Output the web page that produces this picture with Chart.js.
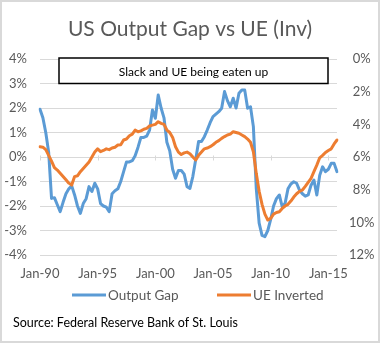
<!DOCTYPE html>
<html>
<head>
<meta charset="utf-8">
<script src="https://cdn.jsdelivr.net/npm/chart.js@4.4.1/dist/chart.umd.min.js"></script>
<style>
  html, body { margin: 0; padding: 0; background: #fff; }
  canvas { display: block; }
</style>
</head>
<body>
<canvas id="chart" width="380" height="343"></canvas>
<script>
// quarterly data, Jan-90 .. Oct-15
const years = [1990, 1991, 1992, 1993, 1994, 1995, 1996, 1997, 1998, 1999, 2000, 2001, 2002,
  2003, 2004, 2005, 2006, 2007, 2008, 2009, 2010, 2011, 2012, 2013, 2014, 2015];
const months = ["Jan", "Apr", "Jul", "Oct"];

const outputGap = [
  1.95, 1.6, 1.0, 0.2,
  -1.69, -1.66, -1.95, -2.23,
  -1.85, -1.5, -1.3, -1.18,
  -1.55, -2.0, -2.3, -1.9,
  -1.7, -1.21, -1.41, -1.07,
  -1.3, -1.9, -2.0, -2.05,
  -2.23, -1.5, -1.38, -1.3,
  -1.0, -0.6, -0.2, -0.2,
  -0.15, 0.05, 0.4, 0.8,
  0.8, 0.85, 1.1, 1.92,
  1.58, 2.53, 2.0, 1.6,
  0.6, 0.25, -0.5, -0.87,
  -0.55, -0.55, -0.7, -1.21,
  -1.28, -0.8, -0.1, 0.63,
  0.63, 0.83, 1.1, 1.4,
  1.65, 1.75, 1.85, 1.99,
  2.67, 2.3, 2.05, 2.4,
  2.0, 2.6, 2.73, 2.73,
  1.99, 2.05, 1.24, -1.28,
  -2.7, -3.2, -3.25, -3.0,
  -2.55, -2.0, -1.7, -1.55,
  -2.03, -1.89, -1.3, -1.1,
  -1.01, -1.07, -1.35, -1.5,
  -1.6, -1.55, -1.15, -0.94,
  -1.55, -0.75, -0.4, -0.6,
  -0.5, -0.26, -0.26, -0.6
];

// unemployment rate, plotted on the inverted right axis
const ueRate = [
  5.37, 5.4, 5.55, 5.9,
  6.25, 6.65, 6.8, 7.0,
  7.2, 7.4, 7.6, 7.72,
  7.2, 7.15, 6.9, 6.7,
  6.5, 6.3, 6.0, 5.7,
  5.5, 5.67, 5.6, 5.5,
  5.55, 5.45, 5.4, 5.27,
  5.25, 4.96, 4.9, 4.7,
  4.6, 4.35, 4.45, 4.4,
  4.3, 4.25, 4.1, 4.05,
  4.0, 3.84, 3.94, 4.0,
  4.35, 4.5, 4.8, 5.37,
  5.7, 5.85, 5.75, 5.7,
  5.8, 6.0, 6.18, 5.9,
  5.7, 5.5, 5.45, 5.37,
  5.25, 5.1, 5.0, 4.86,
  4.75, 4.65, 4.6, 4.45,
  4.5, 4.55, 4.65, 4.75,
  4.9, 5.1, 5.68, 7.0,
  8.1, 8.9, 9.5, 9.86,
  9.76, 9.5, 9.4, 9.35,
  9.15, 9.0, 8.9, 8.7,
  8.45, 8.25, 8.1, 8.02,
  7.8, 7.55, 7.31, 6.9,
  6.5, 6.05, 5.9, 5.72,
  5.6, 5.5, 5.2, 4.96
];

const labels = years.flatMap(y => months.map(m => m + "-" + String(y).slice(2)));
const labelEvery = 20;

const GRID = "#d9d9d9";
const TEXT = "#595959";
const BLUE = "#5b9bd5";
const ORANGE = "#ed7d31";

Chart.defaults.font.family = "Lato, 'Open Sans', sans-serif";
Chart.defaults.color = TEXT;

// white background and thin frame
const frame = {
  id: "frame",
  beforeDraw(chart) {
    const ctx = chart.ctx;
    ctx.save();
    ctx.fillStyle = "#fff";
    ctx.fillRect(0, 0, chart.width, chart.height);
    ctx.strokeStyle = GRID;
    ctx.lineWidth = 2;
    ctx.strokeRect(1, 1, chart.width - 2, chart.height - 2);
    ctx.restore();
  }
};

// little tick marks where the date axis crosses 0%
const zeroTicks = {
  id: "zeroTicks",
  beforeDatasetsDraw(chart) {
    const { ctx, scales } = chart;
    const y0 = Math.round(scales.y.getPixelForValue(0)) + 0.5;
    ctx.save();
    ctx.strokeStyle = GRID;
    ctx.lineWidth = 1;
    for (let i = 0; i < labels.length; i += labelEvery) {
      const x = Math.round(scales.x.getPixelForValue(i)) + 0.5;
      ctx.beginPath();
      ctx.moveTo(x, y0 - 2);
      ctx.lineTo(x, y0 + 3);
      ctx.stroke();
    }
    ctx.restore();
  }
};

// text box at the top, legend and source line
const notes = {
  id: "notes",
  afterDraw(chart) {
    const { ctx, chartArea, scales } = chart;
    const left = chartArea.left + 19;
    const right = chartArea.right - 9;
    const top = scales.y.getPixelForValue(4) - 1;
    const bottom = scales.y.getPixelForValue(3);
    ctx.save();
    ctx.fillStyle = "#fff";
    ctx.fillRect(left, top, right - left, bottom - top);
    ctx.strokeStyle = "#000";
    ctx.lineWidth = 1.5;
    ctx.strokeRect(left, top, right - left, bottom - top);
    ctx.fillStyle = "#000";
    ctx.font = "12px Lato";
    ctx.textAlign = "center";
    ctx.textBaseline = "middle";
    ctx.fillText("Slack and UE being eaten up", (left + right) / 2, (top + bottom) / 2 + 1);

    // legend
    const ly = 295;
    const items = chart.data.datasets.map(ds => ({ text: ds.label, color: ds.borderColor }));
    const starts = [72, 217];
    ctx.font = "13.5px Lato";
    ctx.textAlign = "left";
    items.forEach((it, i) => {
      ctx.strokeStyle = it.color;
      ctx.lineWidth = 3;
      ctx.beginPath();
      ctx.moveTo(starts[i], ly);
      ctx.lineTo(starts[i] + 34, ly);
      ctx.stroke();
      ctx.fillStyle = TEXT;
      ctx.fillText(it.text, starts[i] + 36, ly + 1);
    });

    ctx.fillStyle = "#000";
    ctx.font = "12.5px Lato";
    ctx.fillText("Source: Federal Reserve Bank of St. Louis", 13, 323);
    ctx.restore();
  }
};

new Chart(document.getElementById("chart"), {
  type: "line",
  data: {
    labels: labels,
    datasets: [
      {
        label: "Output Gap",
        data: outputGap,
        yAxisID: "y",
        borderColor: BLUE,
        backgroundColor: BLUE,
        borderWidth: 3,
        pointRadius: 0,
        borderJoinStyle: "round",
        borderCapStyle: "round",
        order: 2
      },
      {
        label: "UE Inverted",
        data: ueRate,
        yAxisID: "y2",
        borderColor: ORANGE,
        backgroundColor: ORANGE,
        borderWidth: 3,
        pointRadius: 0,
        borderJoinStyle: "round",
        borderCapStyle: "round",
        order: 1
      }
    ]
  },
  options: {
    responsive: false,
    animation: false,
    layout: { padding: { left: 0, right: 0, top: 0, bottom: 58 } },
    scales: {
      x: {
        grid: { display: false, drawTicks: false },
        border: { display: false },
        ticks: {
          autoSkip: false,
          maxRotation: 0,
          padding: 11,
          font: { size: 13 },
          callback: (v, i) => (i % labelEvery === 0 ? labels[i] : null)
        },
        afterFit: axis => { axis.height = 30; }
      },
      y: {
        position: "left",
        min: -4,
        max: 4,
        grid: { color: GRID, drawTicks: false },
        border: { display: false },
        ticks: {
          stepSize: 1,
          padding: 13,
          font: { size: 13 },
          callback: v => v + "%"
        },
        afterFit: axis => { axis.width = 40; }
      },
      y2: {
        position: "right",
        min: 0,
        max: 12,
        reverse: true,
        grid: { display: false, drawTicks: false },
        border: { display: false },
        ticks: {
          stepSize: 2,
          padding: 12,
          crossAlign: "center",
          font: { size: 13 },
          callback: v => v + "%"
        },
        afterFit: axis => { axis.width = 43; }
      }
    },
    plugins: {
      title: {
        display: true,
        text: "US Output Gap vs UE (Inv)",
        color: TEXT,
        font: { size: 21, weight: "normal" },
        padding: { top: 16.5, bottom: 17.3 }
      },
      legend: { display: false },
      tooltip: { enabled: false }
    }
  },
  plugins: [frame, zeroTicks, notes]
});
</script>
</body>
</html>
